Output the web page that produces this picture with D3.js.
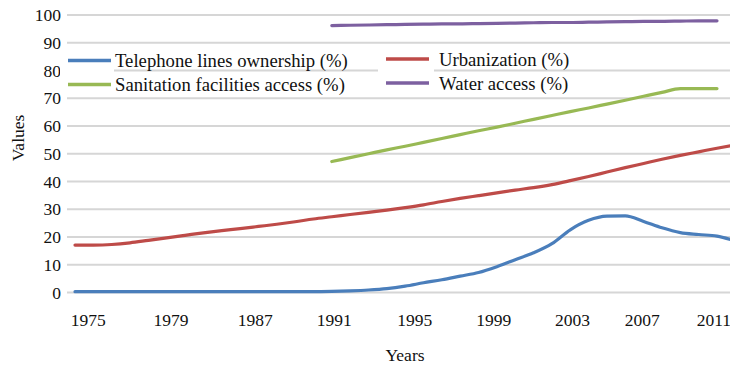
<!DOCTYPE html>
<html>
<head>
<meta charset="utf-8">
<script src="https://cdn.jsdelivr.net/npm/d3@7"></script>
<style>
  html, body { margin: 0; padding: 0; background: #fff; }
  svg { display: block; }
  svg text { font-family: "Liberation Serif", "Times New Roman", serif; }
</style>
</head>
<body>
<svg id="chart" width="730" height="367"></svg>
<script>
// Years on the horizontal axis (one point per year)
const years = d3.range(1975, 2012);

// Series values (%), one per year; null where no data
const telephone = [0.3, 0.3, 0.3, 0.3, 0.3, 0.3, 0.3, 0.3, 0.3, 0.3,
                   0.3, 0.3, 0.3, 0.3, 0.4, 0.6, 0.9, 1.4, 2.3, 3.5,
                   4.6, 5.9, 7.2, 9.3, 11.8, 14.3, 17.6, 22.6, 26.0, 27.5,
                   27.6, 25.6, 23.3, 21.6, 20.9, 20.3, 18.6];
const urbanization = [17.1, 17.1, 17.3, 17.9, 18.8, 19.7, 20.6, 21.5, 22.3, 23.0,
                      23.8, 24.6, 25.5, 26.5, 27.3, 28.1, 28.9, 29.7, 30.6, 31.6,
                      32.8, 33.9, 34.9, 35.9, 36.9, 37.8, 38.9, 40.3, 41.8, 43.4,
                      45.0, 46.5, 48.0, 49.4, 50.7, 52.0, 53.2];
const sanitation = [null, null, null, null, null, null, null, null, null, null,
                    null, null, null, null, 47.2, 48.6, 50.0, 51.4, 52.7, 54.1,
                    55.5, 56.9, 58.3, 59.6, 61.0, 62.4, 63.8, 65.2, 66.5, 67.9,
                    69.3, 70.7, 72.1, 73.5, 73.5, 73.5, null];
const water = [null, null, null, null, null, null, null, null, null, null,
               null, null, null, null, 96.2, 96.3, 96.4, 96.5, 96.6, 96.7,
               96.8, 96.8, 96.9, 97.0, 97.1, 97.2, 97.3, 97.3, 97.4, 97.5,
               97.6, 97.7, 97.7, 97.8, 97.9, 97.9, null];

// Axis labels
const yTicks = [0, 10, 20, 30, 40, 50, 60, 70, 80, 90, 100];
const xTickLabels = ["1975", "1979", "1987", "1991", "1995", "1999", "2003", "2007", "2011"];
const xTickAt = [1975.7, 1980.2, 1984.8, 1989.1, 1993.5, 1997.8, 2002.1, 2005.9, 2009.8];

const seriesNames = ["Telephone lines ownership (%)", "Urbanization (%)",
                     "Sanitation facilities access (%)", "Water access (%)"];
const seriesColors = ["#4a7ebb", "#be4b48", "#98b954", "#7d60a0"];
const seriesValues = [telephone, urbanization, sanitation, water];

const FONT = "Liberation Serif, Times New Roman, serif";
const FS = 17.5;      // axis text
const FS_LEG = 18.7;  // legend text

const svg = d3.select("#chart");
const W = 730;

const x = d3.scaleLinear().domain([1975, 2010]).range([75, 717]);
const y = d3.scaleLinear().domain([0, 100]).range([292.5, 15]);

// Horizontal gridlines
svg.append("g")
  .selectAll("line")
  .data(yTicks)
  .join("line")
  .attr("x1", 67).attr("x2", W)
  .attr("y1", d => y(d)).attr("y2", d => y(d))
  .attr("stroke", "#d6d6d6")
  .attr("stroke-width", 2);

// Y axis labels
const yAxis = d3.axisLeft(y).tickValues(yTicks).tickSize(0).tickPadding(0);
svg.append("g")
  .attr("transform", "translate(61,0)")
  .call(yAxis)
  .attr("font-family", FONT)
  .attr("font-size", FS)
  .call(g => g.select(".domain").remove())
  .call(g => g.selectAll("text").attr("fill", "#111"));

// X axis labels
const xAxis = d3.axisBottom(x).tickValues(xTickAt)
  .tickFormat((d, i) => xTickLabels[i]).tickSize(0).tickPadding(0);
svg.append("g")
  .attr("transform", "translate(0,314)")
  .call(xAxis)
  .attr("font-family", FONT)
  .attr("font-size", FS)
  .call(g => g.select(".domain").remove())
  .call(g => g.selectAll("text").attr("fill", "#111"));

// Axis titles
svg.append("text")
  .attr("x", 405).attr("y", 361)
  .attr("text-anchor", "middle")
  .attr("font-family", FONT)
  .attr("font-size", FS)
  .attr("fill", "#111")
  .text("Years");
svg.append("text")
  .attr("transform", "translate(24,138) rotate(-90)")
  .attr("text-anchor", "middle")
  .attr("font-family", FONT)
  .attr("font-size", FS)
  .attr("fill", "#111")
  .text("Values");

// Series lines
const line = d3.line()
  .defined(d => d.v != null)
  .x(d => x(d.year))
  .y(d => y(d.v))
  .curve(d3.curveMonotoneX);

svg.append("g")
  .selectAll("path")
  .data(seriesValues.map((vals, k) => ({
    color: seriesColors[k],
    pts: years.map((yr, i) => ({ year: yr, v: vals[i] }))
  })))
  .join("path")
  .attr("d", s => line(s.pts))
  .attr("fill", "none")
  .attr("stroke", s => s.color)
  .attr("stroke-width", 3.2)
  .attr("stroke-linecap", "round")
  .attr("stroke-linejoin", "round");

// Legend (two rows, two columns); each column of keys sits on a white patch
const legend = svg.append("g");
[[60, 54], [378, 56]].forEach(([bx, bw]) => {
  legend.append("rect")
    .attr("x", bx).attr("y", 52)
    .attr("width", bw).attr("height", 40)
    .attr("fill", "#fff");
});
const legendPos = [[68, 60.5], [386, 59], [68, 84.5], [386, 83]];
seriesNames.forEach((name, k) => {
  const [lx, ly] = legendPos[k];
  legend.append("line")
    .attr("x1", lx).attr("x2", lx + 43)
    .attr("y1", ly).attr("y2", ly)
    .attr("stroke", seriesColors[k])
    .attr("stroke-width", 3.5);
  legend.append("text")
    .attr("x", lx + (k % 2 ? 53 : 47)).attr("y", ly + 6.5)
    .attr("font-family", FONT)
    .attr("font-size", FS_LEG)
    .attr("fill", "#111")
    .text(name);
});
</script>
</body>
</html>
